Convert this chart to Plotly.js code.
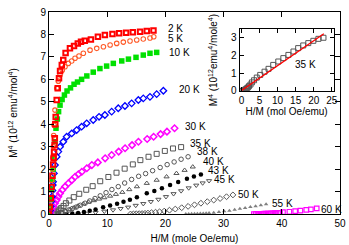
<!DOCTYPE html>
<html>
<head>
<meta charset="utf-8">
<script src="https://cdn.plot.ly/plotly-3.0.1.min.js"></script>
<style>html,body{margin:0;padding:0;background:#fff;}#chart{width:349px;height:245px;}</style>
</head>
<body>
<div id="chart"></div>
<script>
// ---- data (H/M in mole Oe/emu, M^4 in 10^12 emu^4/mol^4) ----
const x2K = [0,0.15,0.3,0.45,0.6,0.7,0.8,0.87,0.95,1.0,1.08,1.15,1.32,1.5,1.72,1.9,2.2,2.45,2.85,3.6,4.3,4.95,5.5,6.15,7.2,8.4,9.6,10.9,12.05,13.25,14.4,15.65,16.8,17.95];
const y2K = [0,0.3,0.7,1.2,1.7,2.2,2.5,2.76,3.07,3.37,4.0,4.32,5.08,5.6,6.05,6.37,6.64,6.86,7.17,7.38,7.48,7.6,7.68,7.72,7.78,7.9,7.97,8.02,8.05,8.08,8.1,8.12,8.15,8.18];
const x5K = [0,0.15,0.3,0.45,0.55,0.65,0.75,0.8,0.86,1.03,1.33,1.6,1.9,2.28,2.75,3.32,3.9,4.47,5.15,5.9,7.05,8.2,9.35,10.5,11.63,12.77,13.92,15.07,16.2,17.35,18.0];
const y5K = [0,0.4,0.9,1.5,2.0,2.5,3.0,3.5,3.96,4.63,5.6,5.92,6.19,6.41,6.56,6.71,6.82,6.94,7.04,7.16,7.3,7.38,7.45,7.53,7.6,7.66,7.71,7.75,7.8,7.84,7.9];
const x10K = [0,0.15,0.3,0.45,0.6,0.72,0.86,1.03,1.2,1.43,1.65,1.9,2.25,2.65,3.1,3.7,4.3,4.9,5.6,6.5,7.6,8.75,9.9,11.05,12.5,13.65,14.95,16.2,17.35,18.5];
const y10K = [0,0.3,0.65,1.1,1.55,2.0,2.48,3.22,3.82,4.23,4.56,4.85,5.1,5.3,5.48,5.62,5.78,5.88,6.0,6.15,6.32,6.48,6.59,6.71,6.82,6.9,6.98,7.08,7.16,7.2];
const x20K = [0,0.2,0.3,0.4,0.5,0.6,0.65,0.7,0.86,1.03,1.32,1.6,1.9,2.45,3.03,3.9,4.75,5.6,6.48,7.6,8.6,9.6,10.77,11.9,13.05,14.2,15.35,16.2,17.35,18.5,19.65];
const y20K = [0,0.15,0.33,0.55,0.77,1.05,1.29,1.44,1.81,2.18,2.55,2.78,3.0,3.22,3.44,3.59,3.74,3.89,4.04,4.19,4.33,4.41,4.56,4.71,4.81,4.93,5.08,5.15,5.22,5.34,5.49];
const x30K = [0,0.17,0.46,0.74,1.03,1.33,1.6,1.89,2.29,2.76,3.33,3.91,4.48,5.05,5.64,6.5,7.36,8.39,9.65,10.77,11.97,13.07,14.27,15.37,16.87,17.97,19.17,20.27,21.57];
const y30K = [0,0.03,0.18,0.33,0.48,0.62,0.77,0.92,1.07,1.22,1.37,1.51,1.66,1.77,1.88,2.04,2.18,2.3,2.48,2.63,2.78,2.93,3.07,3.22,3.34,3.44,3.56,3.67,3.82];
const x35K = [0,0.3,0.6,0.9,1.2,1.5,1.8,2.1,2.5,2.9,3.5,4.25,5.2,6.4,7.5,8.8,10.2,11.6,13.0,14.4,15.7,17.1,18.5,19.9,21.3,22.7];
const y35K = [0,0.01,0.03,0.06,0.1,0.15,0.2,0.27,0.36,0.48,0.6,0.75,0.9,1.08,1.24,1.46,1.65,1.84,2.02,2.21,2.4,2.55,2.68,2.81,2.92,2.98];
const x38K = [1.0,1.6,2.2,2.8,3.4,4.0,4.7,5.4,6.2,7.0,7.9,8.8,9.8,10.8,11.9,13.0,14.2,15.4,16.6,17.8,19.1,20.3,21.5,22.7,23.9];
const y38K = [0,0.03,0.07,0.12,0.18,0.24,0.31,0.39,0.48,0.58,0.69,0.81,0.95,1.09,1.22,1.38,1.54,1.68,1.8,1.93,2.07,2.2,2.32,2.44,2.55];
const x40K = [1.5,2.2,2.9,3.6,4.3,5.0,5.9,6.8,7.7,8.6,9.5,10.5,11.5,12.6,13.8,15.1,16.8,18.5,20.2,21.9,23.3,24.7];
const y40K = [0,0.05,0.12,0.2,0.28,0.36,0.45,0.53,0.6,0.67,0.73,0.8,0.88,0.97,1.09,1.22,1.37,1.51,1.66,1.81,1.95,2.1];
const x43K = [3,4,5,6,7,8,9.3,10.5,11.7,12.8,13.9,15.1,16.8,18.1,19.4,20.8,22.2,23.7,24.9,26.1];
const y43K = [0,0.02,0.05,0.09,0.14,0.2,0.3,0.38,0.46,0.55,0.63,0.75,0.92,1.03,1.15,1.29,1.43,1.57,1.67,1.76];
const x45K = [5,6.5,8,9.5,11,12.3,13.6,14.9,16.2,17.5,18.8,20.1,21.4,22.7,24.0,25.3,26.4,27.5];
const y45K = [0,0.03,0.07,0.12,0.18,0.24,0.3,0.38,0.46,0.55,0.65,0.77,0.9,1.03,1.16,1.28,1.38,1.48];
const x50K = [14,14.5,15,15.5,16,16.5,17,17.6,18.3,19,19.8,20.7,21.7,22.8,23.9,25.0,26.1,27.2,28.3,29.4,30.5,31.6];
const y50K = [0,0.005,0.01,0.015,0.02,0.03,0.04,0.06,0.08,0.1,0.13,0.17,0.22,0.28,0.34,0.41,0.48,0.55,0.62,0.69,0.77,0.85];
const x55K = [23.5,24,24.5,25,25.5,26,26.5,27,27.5,28.3,29.2,30.1,31.0,31.9,32.8,33.7,34.6,35.5,36.4,37.3];
const y55K = [0,0.003,0.006,0.01,0.015,0.02,0.025,0.03,0.04,0.06,0.09,0.12,0.15,0.19,0.23,0.27,0.31,0.35,0.39,0.43];
const x60K = [35.2,35.5,35.8,36.1,36.4,36.7,37.0,37.3,37.6,37.9,38.2,38.5,38.8,39.1,39.4,39.7,40.2,41.3,42.3,43.2,44.2,45.0,46.0];
const y60K = [0,0,0.005,0.005,0.01,0.01,0.015,0.015,0.02,0.02,0.025,0.03,0.035,0.04,0.045,0.05,0.08,0.1,0.13,0.15,0.18,0.21,0.25];
// inset linear fit of 35 K
const xFit = [0, 22.8];
const yFit = [0.02, 3.2];

const labels = ['2 K','5 K','10 K','20 K','30 K','35 K','38 K','40 K','43 K','45 K','50 K','55 K','60 K'];
const labelX = [20.05,20.05,20.2,22.0,23.1,23.9,25.1,26.1,27.0,27.96,32.1,38.0,46.4];
const labelY = [8.28,7.83,7.19,5.56,3.92,3.15,2.78,2.33,1.96,1.55,0.85,0.48,0.21];

const FONT = 'Liberation Sans, Arial, Helvetica, sans-serif';
function sc(x, y, sym, color, size, lw) {
  return {x: x, y: y, type: 'scatter', mode: 'markers', showlegend: false, cliponaxis: true,
    marker: {symbol: sym, color: color, size: size, line: {color: color, width: lw}}};
}
const grey = '#555555';
const traces = [
  sc(x60K, y60K, 'square-open', '#ff00ff', 4.5, 1.2),
  sc(x55K, y55K, 'triangle-up', '#808080', 4, 0),
  sc(x50K, y50K, 'diamond-open', grey, 4.5, 1),
  sc(x45K, y45K, 'triangle-down-open', grey, 4.5, 1),
  sc(x43K, y43K, 'circle', '#000000', 4.5, 0),
  sc(x40K, y40K, 'triangle-up-open', grey, 4.5, 1),
  sc(x38K, y38K, 'circle-open', grey, 4.5, 1),
  sc(x35K, y35K, 'square-open', grey, 5, 1),
  sc(x30K, y30K, 'diamond-open', '#ff00ff', 5, 1.5),
  sc(x20K, y20K, 'diamond-open', '#0000ff', 5, 1.3),
  sc(x10K, y10K, 'square', '#00e000', 5.5, 0),
  sc(x5K, y5K, 'circle-open', '#ff5a28', 4.5, 1.1),
  sc(x2K, y2K, 'square-open', '#ff0000', 4.5, 2)
];
// inset traces
const inset = sc(x35K, y35K, 'square-open', grey, 5, 1);
inset.xaxis = 'x2'; inset.yaxis = 'y2';
traces.push(inset);
traces.push({x: xFit, y: yFit, type: 'scatter', mode: 'lines', showlegend: false,
  xaxis: 'x2', yaxis: 'y2', line: {color: '#ff0000', width: 1.3}});

const annotations = labels.map((t, i) => ({
  text: t, x: labelX[i], y: labelY[i], xref: 'x', yref: 'y',
  xanchor: 'left', yanchor: 'middle', showarrow: false,
  font: {family: FONT, size: 10, color: '#000'}
}));
annotations.push({text: '35 K', x: 14.4, y: 1.5, xref: 'x2', yref: 'y2',
  xanchor: 'left', yanchor: 'middle', showarrow: false, font: {family: FONT, size: 10, color: '#000'}});

const axBase = {showline: true, linecolor: '#000', linewidth: 1, mirror: 'ticks', ticks: 'inside',
  tickcolor: '#000', zeroline: false, showgrid: false, tickfont: {family: FONT, size: 10, color: '#000'}};

const layout = {
  width: 349, height: 245,
  margin: {l: 49, r: 9, t: 12, b: 31},
  paper_bgcolor: '#fff', plot_bgcolor: '#fff',
  font: {family: FONT, size: 10, color: '#000'},
  xaxis: Object.assign({}, axBase, {range: [0, 50], dtick: 10, ticklen: 5, domain: [0, 1],
    title: {text: 'H/M (mole Oe/emu)', font: {family: FONT, size: 10}, standoff: 6}}),
  yaxis: Object.assign({}, axBase, {range: [0, 9], dtick: 1, ticklen: 5, domain: [0, 1],
    title: {text: 'M<sup>4</sup> (10<sup>12</sup> emu<sup>4</sup>/mol<sup>4</sup>)', font: {family: FONT, size: 10}, standoff: 20}}),
  xaxis2: Object.assign({}, axBase, {range: [-0.5, 25.5], dtick: 5, ticklen: 4, anchor: 'y2', domain: [0.655, 0.978],
    title: {text: 'H/M (mol Oe/emu)', font: {family: FONT, size: 10}, standoff: 3}}),
  yaxis2: Object.assign({}, axBase, {range: [0, 3.45], dtick: 1, ticklen: 4, anchor: 'x2', domain: [0.609, 0.914],
    title: {text: 'M<sup>4</sup> (10<sup>12</sup>emu<sup>4</sup>/mole<sup>4</sup>)', font: {family: FONT, size: 10}, standoff: 11}}),
  annotations: annotations
};
Plotly.newPlot('chart', traces, layout, {displayModeBar: false, staticPlot: true});
</script>
</body>
</html>
